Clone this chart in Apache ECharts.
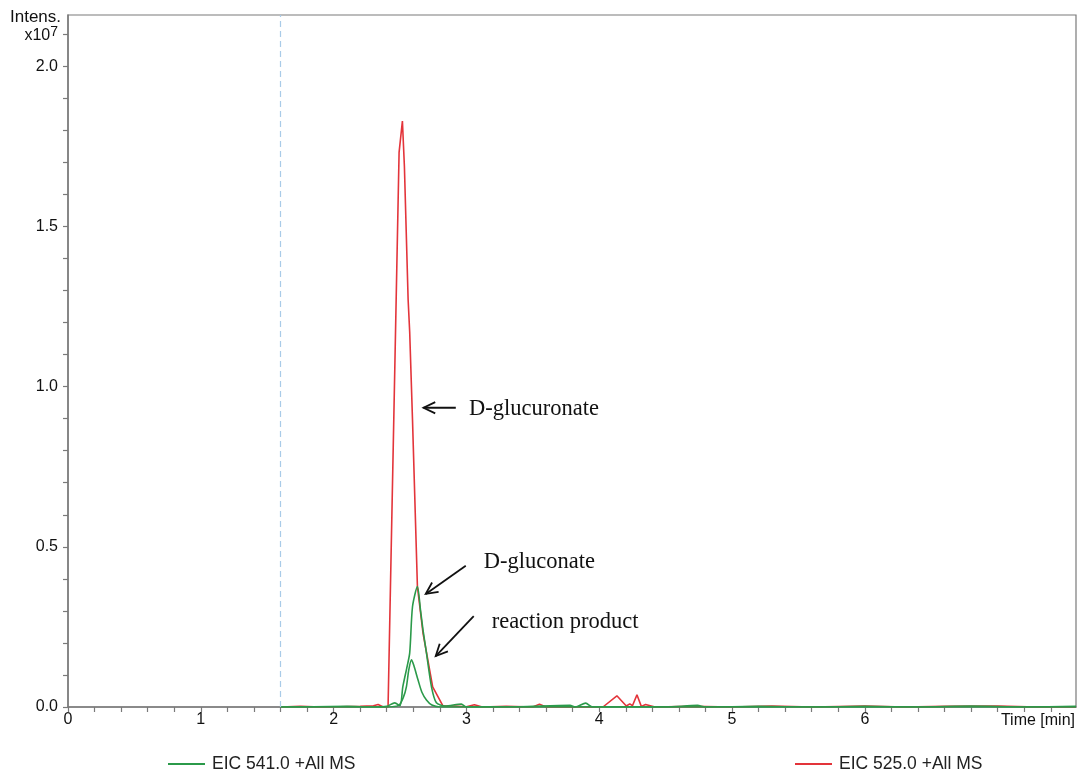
<!DOCTYPE html>
<html>
<head>
<meta charset="utf-8">
<title>EIC chromatogram</title>
<script src="https://cdn.jsdelivr.net/npm/echarts@6/dist/echarts.min.js"></script>
<style>
  html, body { margin: 0; padding: 0; background: #fff; }
  #chart { width: 1078px; height: 773px; }
</style>
</head>
<body>
<div id="chart"></div>
<script>
// Retention time (min) and intensity (x10^7) for each extracted ion chromatogram
const eic525Time = [1.60, 1.75, 1.90, 2.05, 2.20, 2.30, 2.335, 2.37, 2.41, 2.453, 2.493, 2.518, 2.533, 2.561, 2.573, 2.594, 2.631, 2.673, 2.746, 2.822, 2.90, 3.00, 3.06, 3.12, 3.30, 3.50, 3.55, 3.60, 3.80, 4.028, 4.133, 4.204, 4.23, 4.25, 4.284, 4.317, 4.349, 4.42, 4.70, 5.00, 5.30, 5.60, 6.00, 6.30, 6.60, 7.00, 7.30, 7.59];
const eic525Int  = [0.000, 0.002, 0.000, 0.001, 0.002, 0.004, 0.008, 0.001, 0.000, 0.897, 1.731, 1.829, 1.688, 1.272, 1.169, 0.897, 0.376, 0.231, 0.063, 0.004, 0.003, 0.001, 0.007, 0.000, 0.002, 0.000, 0.009, 0.000, 0.001, 0.000, 0.035, 0.003, 0.010, 0.004, 0.038, 0.002, 0.008, 0.000, 0.002, 0.000, 0.003, 0.000, 0.003, 0.000, 0.002, 0.003, 0.000, 0.000];

// Main EIC 541.0 trace (D-gluconate peak)
const eic541aTime = [1.60, 1.85, 2.10, 2.30, 2.40, 2.46, 2.50, 2.521, 2.55, 2.573, 2.594, 2.631, 2.655, 2.673, 2.699, 2.737, 2.774, 2.84, 2.962, 3.00, 3.40, 3.78, 3.82, 3.898, 3.95, 4.20, 4.50, 4.74, 4.80, 5.20, 5.60, 6.00, 6.40, 6.80, 7.20, 7.59];
const eic541aInt  = [0.000, 0.001, 0.002, 0.000, 0.002, 0.013, 0.004, 0.063, 0.120, 0.169, 0.313, 0.376, 0.300, 0.241, 0.169, 0.063, 0.013, 0.003, 0.009, 0.000, 0.001, 0.005, 0.000, 0.012, 0.000, 0.001, 0.000, 0.005, 0.000, 0.002, 0.000, 0.002, 0.000, 0.003, 0.000, 0.002];

// Second EIC 541.0 trace (reaction product peak)
const eic541bTime = [1.60, 2.40, 2.49, 2.525, 2.548, 2.566, 2.586, 2.603, 2.636, 2.664, 2.699, 2.74, 2.80, 3.50, 5.00, 7.59];
const eic541bInt  = [0.000, 0.000, 0.005, 0.030, 0.063, 0.116, 0.147, 0.131, 0.084, 0.047, 0.022, 0.006, 0.000, 0.001, 0.000, 0.000];

// Axis tick labels
const xTickLabels = ['0', '1', '2', '3', '4', '5', '6'];
const yTickLabels = ['0.0', '0.5', '1.0', '1.5', '2.0'];
const markerTime = 1.6;

// Annotation callouts in data coordinates: text position, arrow tail, arrow head
const annotations = [
  { text: 'D-glucuronate',    at: [3.02, 0.931], from: [2.92, 0.934], to: [2.677, 0.934] },
  { text: 'D-gluconate',      at: [3.13, 0.453], from: [2.995, 0.441], to: [2.694, 0.353] },
  { text: 'reaction product', at: [3.19, 0.266], from: [3.055, 0.284], to: [2.769, 0.159] }
];

const zip = (xs, ys) => xs.map((x, i) => [x, ys[i]]);

const RED = '#e3343a';
const GREEN = '#2b9a4a';
const AXIS = '#7a7a7a';
const sans = 'Liberation Sans, Arial, sans-serif';

const chart = echarts.init(document.getElementById('chart'), null, { renderer: 'canvas' });

const near = (v, t) => Math.abs(v - t) < 1e-6;

const option = {
  animation: false,
  backgroundColor: '#fff',
  grid: {
    left: 68, right: 2, top: 15, bottom: 66,
    show: true, borderColor: AXIS, borderWidth: 1.2, backgroundColor: 'transparent'
  },
  xAxis: {
    type: 'value', min: 0, max: 7.59, interval: 0.2,
    axisLine: { show: true, onZero: false, lineStyle: { color: AXIS, width: 1.5 } },
    axisTick: { show: true, length: 5, lineStyle: { color: AXIS, width: 1.2 } },
    splitLine: { show: false },
    axisLabel: {
      color: '#111', fontFamily: sans, fontSize: 16, margin: 5,
      showMaxLabel: false,
      formatter: v => {
        const hit = xTickLabels.find(t => near(Number(t), v));
        return hit !== undefined ? hit : '';
      }
    }
  },
  yAxis: {
    type: 'value', min: 0, max: 2.16, interval: 0.1,
    axisLine: { show: true, lineStyle: { color: AXIS, width: 1.5 } },
    axisTick: { show: true, length: 5, lineStyle: { color: AXIS, width: 1.2 } },
    splitLine: { show: false },
    axisLabel: {
      color: '#111', fontFamily: sans, fontSize: 16, margin: 10,
      showMaxLabel: false,
      formatter: v => {
        if (near(v, 2.1)) return '{b|x10}{s|7}';
        const hit = yTickLabels.find(t => near(Number(t), v));
        return hit !== undefined ? hit : '';
      },
      rich: {
        b: { fontFamily: sans, fontSize: 16, color: '#111', verticalAlign: 'bottom', lineHeight: 18 },
        s: { fontFamily: sans, fontSize: 14, color: '#111', verticalAlign: 'top', lineHeight: 18, padding: [0, 0, 8, 0] }
      }
    }
  },
  legend: [
    {
      data: ['EIC 541.0 +All MS'], left: 163, top: 750,
      icon: 'rect', itemWidth: 37, itemHeight: 2, itemGap: 6,
      textStyle: { fontFamily: sans, fontSize: 17.5, color: '#222', padding: [0, 0, 0, 2] }
    },
    {
      data: ['EIC 525.0 +All MS'], left: 790, top: 750,
      icon: 'rect', itemWidth: 37, itemHeight: 2, itemGap: 6,
      textStyle: { fontFamily: sans, fontSize: 17.5, color: '#222', padding: [0, 0, 0, 2] }
    }
  ],
  series: [
    {
      name: 'EIC 525.0 +All MS', type: 'line', data: zip(eic525Time, eic525Int),
      showSymbol: false, smooth: false, z: 3,
      lineStyle: { color: RED, width: 1.6 }, itemStyle: { color: RED },
      markLine: {
        silent: true, symbol: 'none', label: { show: false },
        lineStyle: { color: '#a9cbe8', type: [6, 4], width: 1.2 },
        data: [{ xAxis: markerTime }]
      }
    },
    {
      name: 'EIC 541.0 +All MS', type: 'line', data: zip(eic541aTime, eic541aInt),
      showSymbol: false, smooth: 0.25, z: 4,
      lineStyle: { color: GREEN, width: 1.6 }, itemStyle: { color: GREEN }
    },
    {
      name: 'EIC 541.0 +All MS', type: 'line', data: zip(eic541bTime, eic541bInt),
      showSymbol: false, smooth: 0.25, z: 4,
      lineStyle: { color: GREEN, width: 1.6 }, itemStyle: { color: GREEN }
    }
  ]
};

chart.setOption(option);

// Axis captions and callouts, positioned from data coordinates
function buildGraphics() {
  const px = p => chart.convertToPixel({ gridIndex: 0 }, p);
  const els = [];
  const gridRight = px([7.59, 0]);

  els.push({
    type: 'text', left: 10, top: 9,
    style: { text: 'Intens.', font: '17px ' + sans, fill: '#111' }
  });
  els.push({
    type: 'text', x: gridRight[0] - 1, y: gridRight[1] + 6,
    style: { text: 'Time [min]', font: '16px ' + sans, fill: '#111', align: 'right', verticalAlign: 'top' }
  });

  annotations.forEach(a => {
    const t = px(a.at), f = px(a.from), h = px(a.to);
    els.push({
      type: 'text', x: t[0], y: t[1],
      style: { text: a.text, font: '22.5px "Liberation Serif", "Times New Roman", serif', fill: '#111', verticalAlign: 'middle' }
    });
    const ang = Math.atan2(f[1] - h[1], f[0] - h[0]);
    const L = 13, spread = 0.45;
    els.push({
      type: 'line',
      shape: { x1: f[0], y1: f[1], x2: h[0], y2: h[1] },
      style: { stroke: '#111', lineWidth: 1.8 }
    });
    els.push({
      type: 'polyline',
      shape: { points: [
        [h[0] + L * Math.cos(ang + spread), h[1] + L * Math.sin(ang + spread)],
        [h[0], h[1]],
        [h[0] + L * Math.cos(ang - spread), h[1] + L * Math.sin(ang - spread)]
      ] },
      style: { stroke: '#111', lineWidth: 1.8, fill: null }
    });
  });
  chart.setOption({ graphic: els });
}
buildGraphics();
</script>
</body>
</html>
